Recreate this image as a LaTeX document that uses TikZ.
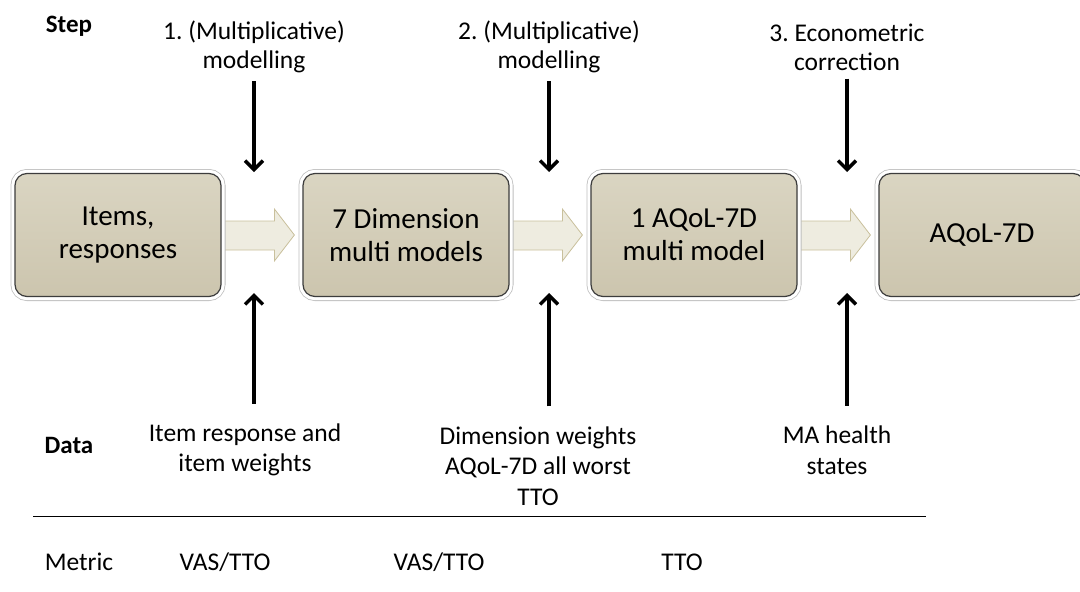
\documentclass[tikz,border=0pt]{standalone}
\usepackage{fontspec}
\setmainfont{Carlito}
\usetikzlibrary{arrows.meta,shadows,calc,backgrounds}
\frenchspacing

\definecolor{mtan}{RGB}{214,208,187}
\definecolor{mtanlight}{RGB}{218,213,194}
\definecolor{mtandark}{RGB}{204,197,174}
\definecolor{mpale}{RGB}{238,236,224}
\definecolor{medge}{RGB}{201,192,156}
\definecolor{mgrey}{RGB}{60,60,60}
\definecolor{mrim}{RGB}{190,190,190}
\newcommand*{\colBoxTop}{mtanlight}
\newcommand*{\colBoxBot}{mtandark}
\newcommand*{\colArr}{mpale}
\newcommand*{\colArrEdge}{medge}
\newcommand*{\boxW}{206}
\newcommand*{\boxH}{123}
\newcommand*{\yBox}{235}
\newcommand*{\yStep}{47}
\newcommand*{\yData}{450}
\newcommand*{\yLine}{516}
\newcommand*{\yMetric}{562}
\newcommand*{\yTip}{172}
\newcommand*{\yFoot}{293}

\begin{document}
\begin{tikzpicture}[x=1pt,y=-1pt,
    stepbox/.style={rectangle, rounded corners=12pt, minimum width=\boxW pt, minimum height=\boxH pt,
        drop shadow={opacity=0.3, shadow xshift=1pt, shadow yshift=-3pt},
        preaction={draw=mrim, line width=9pt},
        preaction={draw=white, line width=7.4pt},
        top color=\colBoxTop, bottom color=\colBoxBot, draw=mgrey, line width=1.2pt,
        align=center, font=\fontsize{29}{33}\selectfont},
    blockarr/.style={fill=\colArr, draw=\colArrEdge, line width=0.8pt, line join=miter},
    steplabel/.style={align=center, inner sep=0pt, font=\fontsize{25.5}{29}\selectfont},
    datalabel/.style={align=center, inner sep=0pt, font=\fontsize{25.5}{30.5}\selectfont},
    rowhead/.style={inner sep=0pt, font=\fontsize{25}{29}\selectfont\bfseries},
    metric/.style={inner sep=0pt, font=\fontsize{25.5}{29}\selectfont},
    flow/.style={line width=3.4pt, -{Straight Barb[length=9pt,width=18pt]}}]

    \clip (0,0) rectangle (1080,592);
    \useasboundingbox (0,0) rectangle (1080,592);

    \begin{scope}
        \foreach \i/\xc/\txt in {1/118/{Items,\\responses}, 2/406/{7 Dimension\\multi models},
                                 3/694/{1 AQoL-7D\\multi model}, 4/982/{AQoL-7D}} {
            \node [stepbox] (b\i) at (\xc,\yBox) {\txt};
        }
    \end{scope}

    \begin{scope}[on background layer]
        \foreach \i/\j in {1/2,2/3,3/4} {
            \path [blockarr] let \p1=(b\i.east), \p2=(b\j.west) in
                (\x1-4pt,\y1+14pt) -- (\x2-28pt,\y1+14pt) -- (\x2-28pt,\y1+26pt) -- (\x2-8pt,\y1)
                -- (\x2-28pt,\y1-26pt) -- (\x2-28pt,\y1-15pt) -- (\x1-4pt,\y1-15pt) -- cycle;
        }
    \end{scope}

    \node [rowhead] (step) at (69,26) {Step};
    \node [steplabel] (s1) at (254,\yStep) {1. (Multiplicative)\\modelling};
    \node [steplabel] (s2) at (549,\yStep) {2. (Multiplicative)\\modelling};
    \node [steplabel] (s3) at (847,\yStep) {3. Econometric\\correction};

    \node [rowhead] (data) at (69,445) {Data};
    \node [datalabel] (d1) at (245,\yData) {Item response and\\item weights};
    \node [datalabel] (d2) at (538,466) {Dimension weights\\AQoL-7D all worst\\TTO};
    \node [datalabel] (d3) at (837,\yData) {MA health\\states};

    \foreach \i/\xa in {1/254,2/549,3/847} {
        \coordinate (t\i) at (\xa,\yTip);
        \coordinate (v\i) at (\xa,\yFoot);
    }

    \foreach \i in {1,2,3} {
        \path [draw,flow,shorten <=8pt] (s\i.south) -- (t\i);
        \path [draw,flow,shorten <=20pt] (d\i.north -| v\i) -- (v\i);
    }

    \draw [line width=1pt] (33,\yLine) -- (926,\yLine);

    \node [metric] (metric) at (79,\yMetric) {Metric};
    \node [metric] (m1) at (225,\yMetric) {VAS/TTO};
    \node [metric] (m2) at (439,\yMetric) {VAS/TTO};
    \node [metric] (m3) at (682,\yMetric) {TTO};

\end{tikzpicture}
\end{document}
